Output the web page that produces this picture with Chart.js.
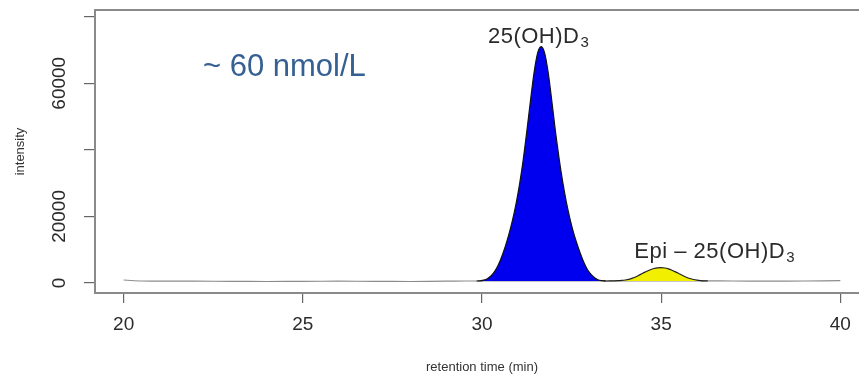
<!DOCTYPE html>
<html>
<head>
<meta charset="utf-8">
<title>25(OH)D3 chromatogram</title>
<script src="https://cdn.jsdelivr.net/npm/chart.js@4.4.1/dist/chart.umd.min.js"></script>
<style>
  html, body { margin: 0; padding: 0; background: #fff; overflow: hidden; }
  #wrap { position: relative; width: 870px; height: 379px; }
  #note {
    position: absolute; left: 203px; top: 50px;
    font-family: "Liberation Sans", Arial, sans-serif; font-size: 31px; line-height: 31px;
    color: #376092; white-space: nowrap;
  }
</style>
</head>
<body>
<div id="wrap">
  <canvas id="chart"></canvas>
  <div id="note">~ 60 nmol/L</div>
</div>
<script>
// chromatogram — intensity vs retention time, two peaks filled

// flat trace outside the peaks
const baselineTimes = [20.0, 20.2, 20.5, 21.0, 22.0, 23.0, 24.0, 25.0, 26.0, 27.0, 28.0, 29.0, 29.5, 29.85,
                       33.45, 34.0, 36.3, 37.0, 38.0, 39.0, 40.0];
const baselineIntensity = [900, 750, 600, 550, 550, 500, 450, 500, 550, 500, 450, 550, 600, 600,
                           600, 600, 620, 600, 550, 600, 700];

// 25(OH)D3 peak
const peakTimes = [29.85, 29.95, 30.05, 30.15, 30.25, 30.35, 30.45, 30.55, 30.65, 30.75, 30.85, 30.95,
                   31.05, 31.15, 31.25, 31.35, 31.45, 31.55, 31.65, 31.75, 31.85, 31.95, 32.05, 32.15,
                   32.25, 32.35, 32.45, 32.55, 32.65, 32.75, 32.85, 32.95, 33.05, 33.15, 33.25, 33.35, 33.45];
const peakIntensity = [600, 650, 850, 1300, 2100, 3400, 5300, 7900, 11000, 14600, 18800, 23800,
                       29800, 37000, 45500, 54500, 63000, 69000, 71000, 69000, 63000, 54500, 45500, 37500,
                       30500, 24500, 19500, 15300, 11800, 8700, 6000, 3900, 2500, 1500, 900, 700, 600];

// epi-25(OH)D3 peak
const epiTimes = [33.4, 33.5, 33.6, 33.7, 33.8, 33.9, 34.0, 34.1, 34.2, 34.3, 34.4, 34.5, 34.6, 34.7, 34.8,
                  34.9, 35.0, 35.1, 35.2, 35.3, 35.4, 35.5, 35.6, 35.7, 35.8, 35.9, 36.0, 36.1, 36.2, 36.3];
const epiIntensity = [600, 600, 620, 650, 700, 780, 900, 1100, 1450, 1900, 2450, 3000, 3550, 4000, 4350,
                      4550, 4600, 4500, 4250, 3850, 3350, 2800, 2250, 1750, 1350, 1050, 850, 720, 650, 620];

const xTicks = [20, 25, 30, 35, 40];
const yTicks = [0, 20000, 40000, 60000, 80000];
const yTickLabels = [0, 20000, 60000];   // R drops the ones that would overlap
const peakNames = ['25(OH)D', 'Epi \u2013 25(OH)D'];
const peakSubs = ['3', '3'];
const noiseLevel = 600;

const FONT = '"Liberation Sans", Arial, sans-serif';
Chart.defaults.font.family = FONT;
Chart.defaults.color = '#333';

function toPoints(xs, ys) {
    return xs.map((x, i) => ({ x, y: ys[i] }));
}

// box, rotated y labels and the peak names
const plotDecor = {
    id: 'plotDecor',
    afterDraw(chart) {
        const { ctx, chartArea: a, scales: { x, y } } = chart;
        ctx.save();

        ctx.strokeStyle = '#8a8a8a';
        ctx.lineWidth = 2;
        ctx.strokeRect(a.left, a.top, a.right - a.left, a.bottom - a.top);

        ctx.fillStyle = '#2b2b2b';
        ctx.font = '19px ' + FONT;
        ctx.textAlign = 'center';
        ctx.textBaseline = 'middle';
        yTickLabels.forEach(v => {
            ctx.save();
            ctx.translate(60, y.getPixelForValue(v));
            ctx.rotate(-Math.PI / 2);
            ctx.fillText(String(v), 0, 0);
            ctx.restore();
        });

        // label each peak just above its apex
        const series = [[peakTimes, peakIntensity, -3, -4], [epiTimes, epiIntensity, 53, -10]];
        series.forEach(([xs, ys, dx, dy], k) => {
            const top = ys.indexOf(Math.max(...ys));
            const cx = x.getPixelForValue(xs[top]) + dx;
            const by = y.getPixelForValue(ys[top]) + dy;
            ctx.textAlign = 'left';
            ctx.textBaseline = 'alphabetic';
            ctx.font = '22px ' + FONT;
            ctx.letterSpacing = '0.5px';
            const w1 = ctx.measureText(peakNames[k]).width;
            ctx.font = '15px ' + FONT;
            const w2 = ctx.measureText(peakSubs[k]).width;
            const x0 = cx - (w1 + w2) / 2;
            ctx.font = '22px ' + FONT;
            ctx.fillText(peakNames[k], x0, by);
            ctx.font = '15px ' + FONT;
            ctx.fillText(peakSubs[k], x0 + w1 + 1, by + 4);
        });

        ctx.restore();
    }
};

new Chart(document.getElementById('chart'), {
    type: 'line',
    data: {
        datasets: [
            {
                data: toPoints(peakTimes, peakIntensity),
                borderColor: '#111',
                borderWidth: 1.2,
                backgroundColor: '#0000ee',
                fill: { value: noiseLevel },
                pointRadius: 0,
                cubicInterpolationMode: 'monotone',
            },
            {
                data: toPoints(epiTimes, epiIntensity),
                borderColor: '#222',
                borderWidth: 1.2,
                backgroundColor: '#f2f000',
                fill: { value: noiseLevel },
                pointRadius: 0,
                cubicInterpolationMode: 'monotone',
            },
            {
                data: toPoints(baselineTimes, baselineIntensity),
                borderColor: '#8c8c8c',
                borderWidth: 1.2,
                fill: false,
                pointRadius: 0,
                tension: 0.2,
            },
        ]
    },
    options: {
        responsive: true,
        maintainAspectRatio: false,
        animation: false,
        layout: { padding: { top: 10, right: 1, left: 0, bottom: 0 } },
        plugins: {
            legend: { display: false },
            tooltip: { enabled: false },
        },
        scales: {
            x: {
                type: 'linear',
                min: 19.2,
                max: 40.8,
                afterFit: (s) => { s.height = 86; },
                afterBuildTicks: (s) => { s.ticks = xTicks.map(v => ({ value: v })); },
                border: { display: false },
                grid: { drawOnChartArea: false, drawTicks: true, tickLength: 10, color: '#666', lineWidth: 1.2 },
                ticks: { font: { size: 19 }, color: '#2b2b2b', padding: 10, maxRotation: 0 },
                title: {
                    display: true,
                    text: 'retention time (min)',
                    font: { size: 13 },
                    color: '#333',
                    padding: { top: 0, bottom: 4 },
                },
            },
            y: {
                type: 'linear',
                min: -3000,
                max: 82000,
                afterFit: (s) => { s.width = 95; },
                afterBuildTicks: (s) => { s.ticks = yTicks.map(v => ({ value: v })); },
                border: { display: false },
                grid: { drawOnChartArea: false, drawTicks: true, tickLength: 11, color: '#666', lineWidth: 1.2 },
                ticks: { display: false },
                title: {
                    display: true,
                    text: 'intensity',
                    font: { size: 13 },
                    color: '#333',
                    padding: { top: 13, bottom: 0 },
                },
            },
        },
    },
    plugins: [plotDecor],
});
</script>
</body>
</html>
